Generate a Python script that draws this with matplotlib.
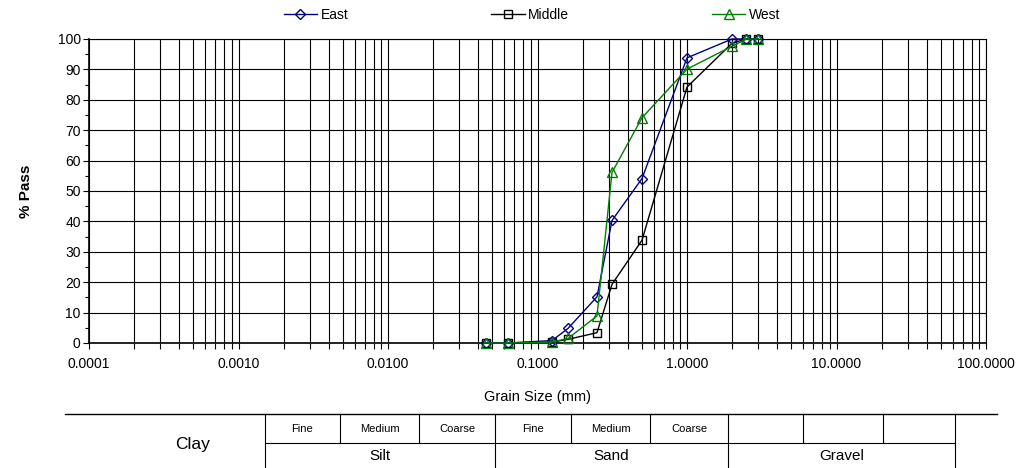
import numpy as np
import matplotlib
matplotlib.use('Agg')
import matplotlib.pyplot as plt
from matplotlib.ticker import LogLocator, FixedLocator, NullFormatter, FuncFormatter

plt.rcParams['font.family'] = ['Liberation Sans', 'DejaVu Sans']

# --- data (sieve sizes in mm, % passing) ---
grain = [0.045, 0.063, 0.125, 0.16, 0.25, 0.315, 0.5, 1.0, 2.0, 2.5, 3.0]
east = [0, 0, 0.8, 4.8, 15.2, 40.3, 54.1, 93.8, 100, 100, 100]
middle = [0, 0, 0.3, 1.2, 3.4, 19.3, 33.8, 84.2, 98.6, 100, 100]
west = [0, 0, 0.3, 1.5, 8.9, 56.1, 74.1, 90.1, 97.6, 100, 100]

x_ticks = [0.0001, 0.001, 0.01, 0.1, 1, 10, 100]
y_ticks = list(range(0, 101, 10))

# table of soil classes: (label, x0, x1) in figure pixels
sub_cells = [("Fine", 265, 340), ("Medium", 340, 419), ("Coarse", 419, 495),
             ("Fine", 495, 571), ("Medium", 571, 650), ("Coarse", 650, 728),
             ("", 728, 803), ("", 803, 883), ("", 883, 955)]
main_cells = [("Silt", 265, 495), ("Sand", 495, 728), ("Gravel", 728, 955)]

W, H = 1017, 468
fig = plt.figure(figsize=(W / 100, H / 100), dpi=100)
ax = fig.add_axes([89 / W, 1 - 343 / H, (986 - 89) / W, (343 - 39) / H])

ax.plot(grain, east, color='#000080', marker='D', markersize=5.5, mfc='none',
        mew=1.0, lw=1.0, label='East', clip_on=False, zorder=4)
ax.plot(grain, middle, color='black', marker='s', markersize=6, mfc='none',
        mew=1.0, lw=1.0, label='Middle', clip_on=False, zorder=3)
ax.plot(grain, west, color='#008000', marker='^', markersize=7, mfc='none',
        mew=1.0, lw=1.0, label='West', clip_on=False, zorder=5)

ax.set_xscale('log')
ax.set_xlim(0.0001, 100)
ax.set_ylim(0, 100)
ax.xaxis.set_major_locator(FixedLocator(x_ticks))
ax.xaxis.set_major_formatter(FuncFormatter(lambda v, p: f"{v:.4f}"))
ax.xaxis.set_minor_locator(LogLocator(base=10, subs=np.arange(2, 10), numticks=20))
ax.xaxis.set_minor_formatter(NullFormatter())
ax.set_yticks(y_ticks)
ax.set_yticks(range(5, 100, 10), minor=True)

ax.grid(True, which='major', color='black', lw=0.8)
ax.grid(True, which='minor', axis='x', color='black', lw=0.8)
ax.tick_params(axis='both', which='both', direction='out', color='black',
               labelsize=10, width=0.8)
ax.tick_params(axis='x', which='major', length=4, pad=6)
ax.tick_params(axis='x', which='minor', length=4)
ax.tick_params(axis='y', which='major', length=4, pad=2)
ax.tick_params(axis='y', which='minor', length=3)
for side in ['left', 'bottom']:
    ax.spines[side].set_linewidth(1.2)
for side in ['top', 'right']:
    ax.spines[side].set_linewidth(0.8)

ax.set_ylabel('% Pass', fontsize=11, fontweight='bold', labelpad=18)
ax.set_xlabel('Grain Size (mm)', fontsize=10.5, labelpad=14)

leg = fig.legend(loc='upper center', bbox_to_anchor=(532 / W, 1.01), ncol=3,
                 frameon=False, fontsize=10, columnspacing=10.3,
                 handlelength=2.4, handletextpad=0.25)

# overlay axes in pixel coordinates for the classification table
tb = fig.add_axes([0, 0, 1, 1])
tb.set_xlim(0, W)
tb.set_ylim(H, 0)
tb.axis('off')
tb.patch.set_alpha(0)

y_top, y_mid, y_bot = 414, 443, 468
tb.plot([65, 997], [y_top, y_top], color='black', lw=1.0)
tb.plot([265, 955], [y_mid, y_mid], color='black', lw=0.8)
for xv in [265, 495, 728, 955]:
    tb.plot([xv, xv], [y_top, y_bot], color='black', lw=0.8)
for label, x0, x1 in sub_cells:
    if x0 not in (265, 495, 728):
        tb.plot([x0, x0], [y_top, y_mid], color='black', lw=0.8)
    if label:
        tb.text((x0 + x1) / 2, (y_top + y_mid) / 2, label, ha='center',
                va='center', fontsize=8)
for label, x0, x1 in main_cells:
    tb.text((x0 + x1) / 2, (y_mid + y_bot) / 2 + 1, label, ha='center',
            va='center', fontsize=11)
tb.text(193, 444, 'Clay', ha='center', va='center', fontsize=12.5)

fig.savefig('out.png', dpi=100)
